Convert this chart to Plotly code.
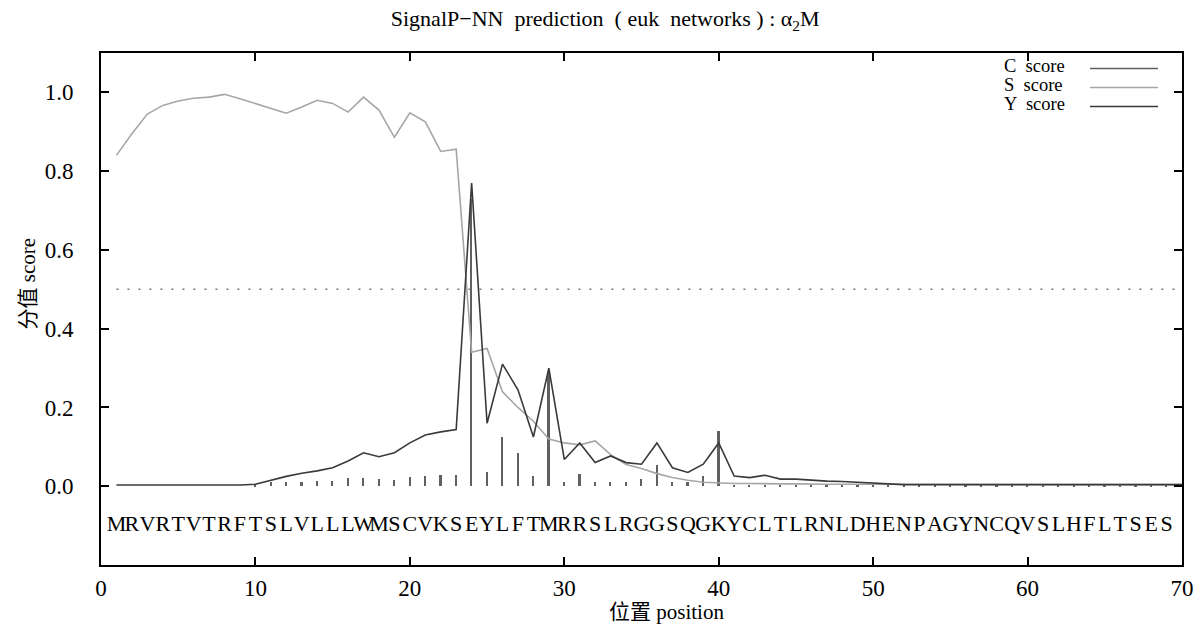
import numpy as np
import plotly.graph_objects as go

# ---------------- data ----------------
positions = list(range(1, 71))

c_score = [0.0, 0.0, 0.0, 0.0, 0.0, 0.0, 0.0, 0.0, 0.0, 0.002,
           0.010, 0.012, 0.012, 0.014, 0.014, 0.020, 0.022, 0.018, 0.016, 0.024,
           0.026, 0.028, 0.028, 0.730, 0.035, 0.125, 0.085, 0.025, 0.290, 0.010,
           0.030, 0.010, 0.012, 0.010, 0.018, 0.055, 0.010, 0.010, 0.025, 0.140,
           0.004, 0.004, 0.004, 0.004, 0.004, 0.004, 0.004, 0.004, 0.004, 0.004,
           0.003, 0.003, 0.003, 0.003, 0.003, 0.003, 0.003, 0.003, 0.003, 0.003,
           0.003, 0.003, 0.003, 0.003, 0.003, 0.003, 0.003, 0.003, 0.003, 0.003]

s_score = [0.840, 0.895, 0.945, 0.967, 0.978, 0.985, 0.988, 0.995, 0.984, 0.972,
           0.960, 0.947, 0.963, 0.980, 0.972, 0.950, 0.988, 0.955, 0.886, 0.948,
           0.925, 0.850, 0.856, 0.340, 0.350, 0.240, 0.200, 0.165, 0.120, 0.110,
           0.105, 0.115, 0.080, 0.055, 0.045, 0.032, 0.022, 0.015, 0.010, 0.008,
           0.007, 0.007, 0.006, 0.006, 0.006, 0.005, 0.005, 0.005, 0.005, 0.004,
           0.004, 0.004, 0.004, 0.004, 0.004, 0.004, 0.004, 0.004, 0.004, 0.004,
           0.004, 0.004, 0.004, 0.004, 0.004, 0.004, 0.004, 0.004, 0.004, 0.004]

y_score = [0.003, 0.003, 0.003, 0.003, 0.003, 0.003, 0.003, 0.003, 0.003, 0.005,
           0.015, 0.025, 0.033, 0.039, 0.047, 0.064, 0.085, 0.075, 0.085, 0.110,
           0.130, 0.138, 0.144, 0.770, 0.160, 0.310, 0.245, 0.125, 0.300, 0.068,
           0.110, 0.060, 0.077, 0.060, 0.056, 0.110, 0.047, 0.035, 0.056, 0.110,
           0.026, 0.022, 0.028, 0.018, 0.018, 0.015, 0.013, 0.012, 0.010, 0.008,
           0.006, 0.004, 0.004, 0.004, 0.004, 0.004, 0.004, 0.004, 0.004, 0.004,
           0.004, 0.004, 0.004, 0.004, 0.004, 0.004, 0.004, 0.004, 0.004, 0.004]

sequence = "MRVRTVTRFTSLVLLLWMSCVKSEYLFTMRRSLRGGSQGKYCLTLRNLDHENPAGYNCQVSLHFLTSES"

threshold = 0.5
x_ticks = [0, 10, 20, 30, 40, 50, 60, 70]
y_ticks = [0.0, 0.2, 0.4, 0.6, 0.8, 1.0]
y_tick_text = ["0.0", "0.2", "0.4", "0.6", "0.8", "1.0"]
legend_names = ["C  score", "S  score", "Y  score"]

title_text = "SignalP\u2212NN  prediction  ( euk  networks ) : \u03b1<sub>2</sub>M"
x_title = "位置 position"
y_title = "分值 score"

# ---------------- style ----------------
SERIF = "Liberation Serif, Times New Roman, Noto Sans CJK SC, serif"
C_COLOR = "#606060"
S_COLOR = "#a6a6a6"
Y_COLOR = "#3a3a3a"
SEQ_Y = -0.10

fig = go.Figure()

# C score as impulses
fig.add_trace(go.Bar(x=positions, y=c_score, width=0.11, marker=dict(color=C_COLOR, line=dict(width=0)),
                     name="C score", showlegend=False))
# S score
fig.add_trace(go.Scatter(x=positions, y=s_score, mode="lines", line=dict(color=S_COLOR, width=1.6),
                         name="S score", showlegend=False))
# Y score
fig.add_trace(go.Scatter(x=positions, y=y_score, mode="lines", line=dict(color=Y_COLOR, width=1.6),
                         name="Y score", showlegend=False))

# sequence letters, one under each position
seq_x = positions[:len(sequence)]
fig.add_trace(go.Scatter(x=seq_x, y=[SEQ_Y] * len(sequence), mode="text", text=list(sequence),
                         textfont=dict(family=SERIF, size=22, color="black"),
                         textposition="middle center", showlegend=False, hoverinfo="skip"))

# threshold line
fig.add_shape(type="line", xref="x", yref="y", x0=1, x1=70, y0=threshold, y1=threshold,
              line=dict(color="#777777", width=1.6, dash="2px,9px"))

# custom legend (text left, sample right)
legend_colors = [C_COLOR, S_COLOR, Y_COLOR]
legend_text_rows = [0.9746, 0.9375, 0.9004]
legend_line_rows = [0.9697, 0.9326, 0.8955]
for name, col, yt, yl in zip(legend_names, legend_colors, legend_text_rows, legend_line_rows):
    fig.add_annotation(x=0.8335, y=yt, xref="paper", yref="paper", text=name, showarrow=False,
                       xanchor="left", yanchor="middle", font=dict(family=SERIF, size=18.5, color="black"))
    fig.add_shape(type="line", xref="paper", yref="paper", x0=0.9149, x1=0.9778, y0=yl, y1=yl,
                  line=dict(color=col, width=1.6))

# axis titles
fig.add_annotation(x=0.5227, y=-0.092, xref="paper", yref="paper", text=x_title, showarrow=False,
                   xanchor="center", yanchor="middle", font=dict(family=SERIF, size=21, color="black"))
fig.add_annotation(x=-0.0675, y=0.55, xref="paper", yref="paper", text=y_title, showarrow=False,
                   textangle=-90, xanchor="center", yanchor="middle",
                   font=dict(family=SERIF, size=21, color="black"))

axis_common = dict(showgrid=False, zeroline=False, showline=True, linecolor="black", linewidth=2,
                   ticks="inside", ticklen=8, tickwidth=1.5, tickcolor="black", mirror="ticks",
                   tickfont=dict(family=SERIF, size=23, color="black"))

fig.update_xaxes(range=[0, 70], tickvals=x_ticks, ticktext=[str(v) for v in x_ticks],
                 ticklabelstandoff=1, ticklabeloverflow="allow", **axis_common)
fig.update_yaxes(range=[-0.2, 1.1], tickvals=y_ticks, ticktext=y_tick_text,
                 ticklabelstandoff=21, **axis_common)

fig.update_layout(
    width=1196, height=628,
    margin=dict(l=101, r=14, t=53, b=63, autoexpand=False),
    paper_bgcolor="white", plot_bgcolor="white",
    title=dict(text=title_text, x=0.506, xanchor="center", y=0.971, yanchor="middle",
               font=dict(family=SERIF, size=22, color="black")),
    showlegend=False, bargap=0,
)

# remove the browser's default 8px body margin so the figure fills the window exactly
fig.write_html("out.html", config={"displayModeBar": False},
               post_script="document.body.style.margin='0';document.body.style.overflow='hidden';")
